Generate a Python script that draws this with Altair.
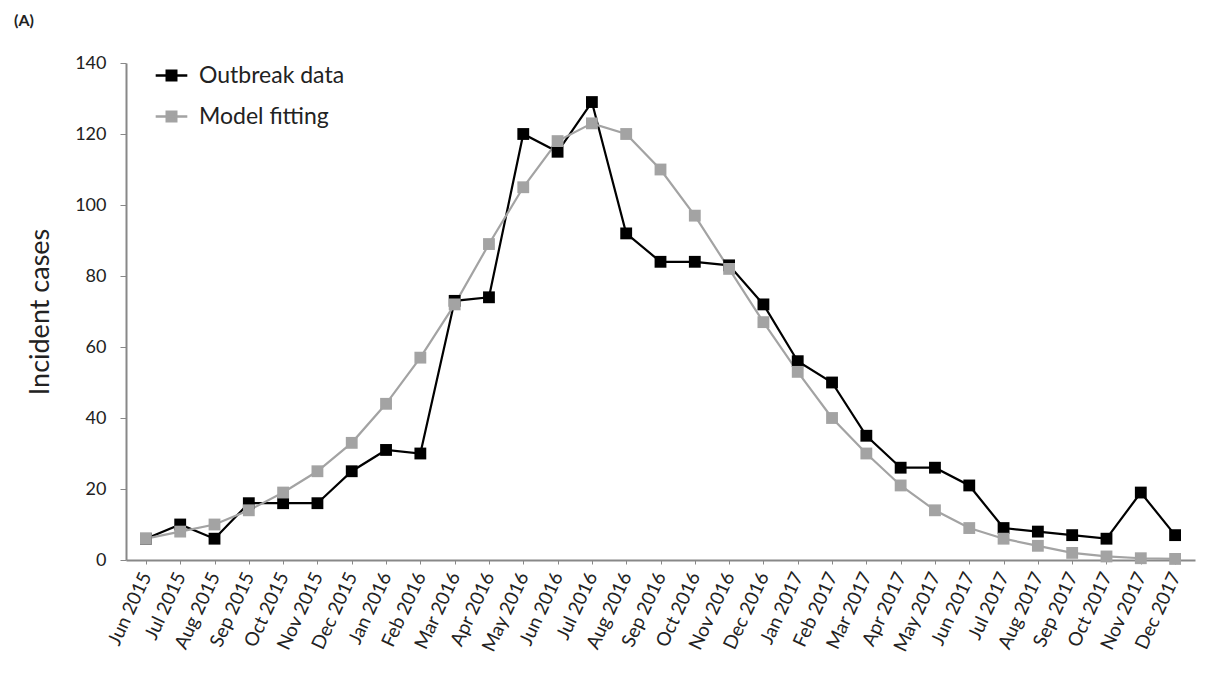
import altair as alt
import pandas as pd

months = ["Jun 2015", "Jul 2015", "Aug 2015", "Sep 2015", "Oct 2015", "Nov 2015", "Dec 2015",
          "Jan 2016", "Feb 2016", "Mar 2016", "Apr 2016", "May 2016", "Jun 2016", "Jul 2016",
          "Aug 2016", "Sep 2016", "Oct 2016", "Nov 2016", "Dec 2016", "Jan 2017", "Feb 2017",
          "Mar 2017", "Apr 2017", "May 2017", "Jun 2017", "Jul 2017", "Aug 2017", "Sep 2017",
          "Oct 2017", "Nov 2017", "Dec 2017"]

outbreak = [6, 10, 6, 16, 16, 16, 25, 31, 30, 73, 74, 120, 115, 129, 92, 84, 84, 83, 72,
            56, 50, 35, 26, 26, 21, 9, 8, 7, 6, 19, 7]
model = [6, 8, 10, 14, 19, 25, 33, 44, 57, 72, 89, 105, 118, 123, 120, 110, 97, 82, 67,
         53, 40, 30, 21, 14, 9, 6, 4, 2, 1, 0.5, 0.3]

series_names = ["Outbreak data", "Model fitting"]
series_colors = ["#000000", "#A3A3A3"]

df = pd.DataFrame({
    "month": months * 2,
    "cases": outbreak + model,
    "series": [series_names[0]] * len(months) + [series_names[1]] * len(months),
    "order": list(range(len(months))) * 2,
})

FONT = "Lato"

xenc = alt.X("month:N", sort=months, title=None,
             scale=alt.Scale(type="point", padding=0.58),
             axis=alt.Axis(labelAngle=-65, labelAlign="right", labelBaseline="middle",
                           labelFontSize=19, labelColor="#222222", labelPadding=9,
                           tickSize=4, tickColor="#888888", domainColor="#888888",
                           domainWidth=2, grid=False, labelOverlap=False))
yenc = alt.Y("cases:Q", title="Incident cases",
             scale=alt.Scale(domain=[0, 140], nice=False),
             axis=alt.Axis(values=[0, 20, 40, 60, 80, 100, 120, 140], tickSize=6,
                           tickColor="#888888", domainColor="#888888", domainWidth=2,
                           labelFontSize=18, labelColor="#222222", labelPadding=14,
                           titleFontSize=27, titleFontWeight="normal", titleColor="#222222",
                           titlePadding=20, grid=False))

legend_path = "M-1,0L1,0M-0.3,-0.3L0.3,-0.3L0.3,0.3L-0.3,0.3Z"

color = alt.Color("series:N", sort=series_names,
                  scale=alt.Scale(domain=series_names, range=series_colors),
                  legend=alt.Legend(title=None, orient="none", legendX=28, legendY=-5,
                                    symbolType=legend_path, symbolSize=1000,
                                    symbolStrokeWidth=2.5, labelFontSize=23,
                                    labelColor="#222222", rowPadding=11, labelOffset=10))

lines = alt.Chart(df).mark_line(strokeWidth=2.2).encode(
    x=xenc, y=yenc, color=color, detail="series:N", order="order:Q"
)

points = alt.Chart(df).mark_square(filled=True, opacity=1, size=140).encode(
    x=xenc, y=yenc,
    color=alt.Color("series:N", sort=series_names,
                    scale=alt.Scale(domain=series_names, range=series_colors), legend=None),
)

label = alt.Chart(pd.DataFrame({"t": ["(A)"]})).mark_text(
    font=FONT, fontSize=16, fontWeight="bold", align="left", baseline="middle", color="#222222"
).encode(text="t:N", x=alt.value(-112), y=alt.value(-42))

chart = alt.layer(lines, points, label).properties(
    width=1069, height=497,
    autosize=alt.AutoSizeParams(type="none"),
    padding={"left": 118, "top": 55, "right": 10, "bottom": 105},
).configure(font=FONT).configure_view(stroke=None)

chart.save("out.html", embed_options={"renderer": "svg", "actions": False})
